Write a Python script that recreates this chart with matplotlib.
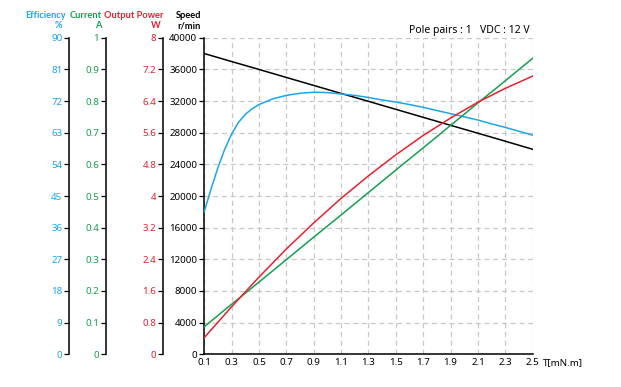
import matplotlib
matplotlib.use("Agg")
import matplotlib.pyplot as plt
import numpy as np

plt.rcParams['font.family'] = ['Noto Sans', 'DejaVu Sans']

# torque [mN.m]
torque_fine = [0.1, 0.15, 0.2, 0.25, 0.3, 0.35, 0.4, 0.45, 0.5, 0.6, 0.7, 0.8,
               0.9, 1.0, 1.1, 1.2, 1.3, 1.4, 1.5, 1.6, 1.7, 1.8, 1.9, 2.0,
               2.1, 2.2, 2.3, 2.4, 2.5]
efficiency = [40.5, 47.0, 53.0, 58.3, 62.6, 65.9, 68.2, 69.8, 71.0, 72.6,
              73.6, 74.2, 74.5, 74.4, 74.0, 73.6, 73.0, 72.3, 71.7, 71.0,
              70.2, 69.3, 68.4, 67.5, 66.6, 65.5, 64.5, 63.4, 62.3]

torque = [0.1, 0.3, 0.5, 0.7, 0.9, 1.1, 1.3, 1.5, 1.7, 1.9, 2.1, 2.3, 2.5]
speed = [38000, 36990, 35990, 34980, 33970, 32960, 31960, 30950, 29940,
         28930, 27930, 26920, 25900]
current = [0.087, 0.158, 0.228, 0.299, 0.370, 0.440, 0.511, 0.582, 0.652,
           0.723, 0.794, 0.864, 0.935]
power = [0.42, 1.20, 1.95, 2.66, 3.32, 3.94, 4.51, 5.04, 5.53, 5.97, 6.37,
         6.72, 7.03]

eff_ticks = [0, 9, 18, 27, 36, 45, 54, 63, 72, 81, 90]
cur_ticks = [0, 0.1, 0.2, 0.3, 0.4, 0.5, 0.6, 0.7, 0.8, 0.9, 1]
cur_labels = ['0', '0.1', '0.2', '0.3', '0.4', '0.5', '0.6', '0.7', '0.8', '0.9', '1']
pow_ticks = [0, 0.8, 1.6, 2.4, 3.2, 4, 4.8, 5.6, 6.4, 7.2, 8]
pow_labels = ['0', '0.8', '1.6', '2.4', '3.2', '4', '4.8', '5.6', '6.4', '7.2', '8']
spd_ticks = list(range(0, 40001, 4000))

BLUE = '#1ca6ea'
GREEN = '#15a04f'
RED = '#e8202f'
FS = 7

W, H = 621, 387
fig = plt.figure(figsize=(W / 100, H / 100), dpi=100)
x0, x1 = 204.2, 532.7
y0, y1 = 354.3, 37.7
ax = fig.add_axes([x0 / W, 1 - y0 / H, (x1 - x0) / W, (y0 - y1) / H])

ax.set_xlim(0.1, 2.5)
ax.set_ylim(0, 40000)
ax.set_xticks(torque)
ax.set_xticklabels(['%.1f' % t for t in torque])
ax.set_yticks(spd_ticks)
ax.grid(True, color='#c8c8c8', linestyle=(0, (4, 3)), linewidth=0.9)
ax.set_axisbelow(True)
for s in ['top', 'right']:
    ax.spines[s].set_visible(False)
for s in ['left', 'bottom']:
    ax.spines[s].set_linewidth(1.1)
ax.tick_params(axis='y', length=3.5, width=0.9, labelsize=FS, pad=1.5)
ax.tick_params(axis='x', length=0, labelsize=FS, pad=3)
ax.plot(torque, speed, color='black', lw=1.1, zorder=3)


def side_axis(pos_px, ylim, ticks, labels, color):
    par = ax.twinx()
    par.set_ylim(*ylim)
    par.spines['left'].set_visible(True)
    par.spines['left'].set_position(('axes', (pos_px - x0) / (x1 - x0)))
    par.spines['left'].set_linewidth(1.1)
    par.yaxis.set_ticks_position('left')
    par.yaxis.set_label_position('left')
    for s in ['top', 'right', 'bottom']:
        par.spines[s].set_visible(False)
    par.set_yticks(ticks)
    par.set_yticklabels(labels)
    par.tick_params(axis='y', length=3.5, width=0.9, labelsize=FS,
                    labelcolor=color, pad=1.5)
    return par


eff_ax = side_axis(69.3, (0, 90), eff_ticks, [str(t) for t in eff_ticks], BLUE)
cur_ax = side_axis(106, (0, 1), cur_ticks, cur_labels, GREEN)
pow_ax = side_axis(163.3, (0, 8), pow_ticks, pow_labels, RED)

eff_ax.plot(torque_fine, efficiency, color=BLUE, lw=1.1)
cur_ax.plot(torque, current, color=GREEN, lw=1.1)
pow_ax.plot(torque, power, color=RED, lw=1.1)


# headers
def ftxt(x, y, s, color, ha='center'):
    fig.text(x / W, 1 - y / H, s, color=color, ha=ha, va='center',
             fontsize=6.7, family=['Lato', 'DejaVu Sans'], fontweight='bold')


ftxt(46, 15, 'Efficiency', BLUE)
ftxt(58, 26, '%', BLUE)
ftxt(85.5, 15, 'Current', GREEN)
ftxt(98, 26, 'A', GREEN)
ftxt(133.5, 15, 'Output Power', RED)
ftxt(156, 26, 'W', RED)
ftxt(189, 15, 'Speed', 'black')
ftxt(189, 26, 'r/min', 'black')

fig.text(530 / W, 1 - 30 / H, 'Pole pairs : 1   VDC : 12 V', ha='right',
         va='center', fontsize=7.5)
fig.text(543 / W, 1 - 363 / H, 'T[mN.m]', ha='left', va='center', fontsize=FS)

fig.savefig('out.png', dpi=100)
